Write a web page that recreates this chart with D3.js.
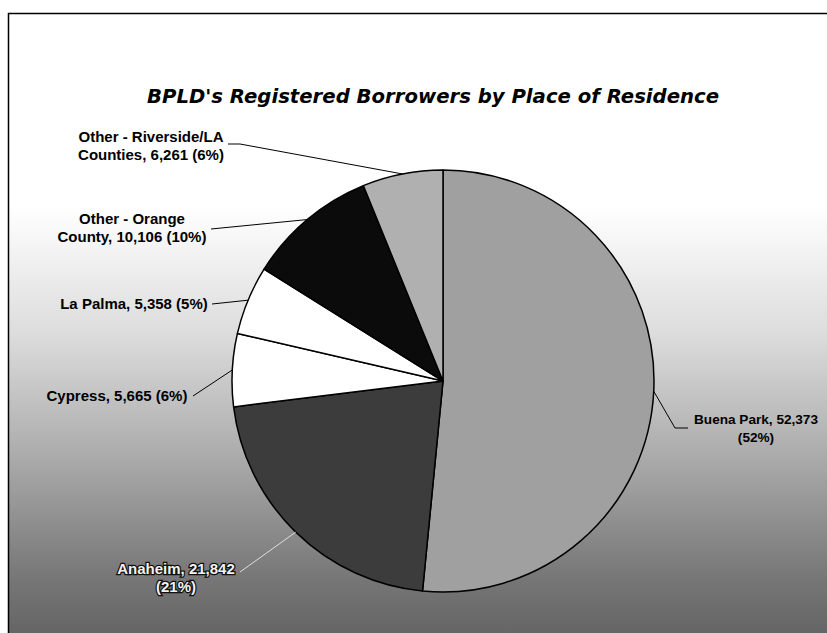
<!DOCTYPE html>
<html><head><meta charset="utf-8">
<script src="https://cdn.jsdelivr.net/npm/d3@7"></script>
<style>html,body{margin:0;padding:0;background:#fff;}svg{display:block;}</style>
</head><body>
<script>
// ---- data ----
const categories = ["Buena Park", "Anaheim", "Cypress", "La Palma", "Other - Orange County", "Other - Riverside/LA Counties"];
const values = [52373, 21842, 5665, 5358, 10106, 6261];
const percents = ["52%", "21%", "6%", "5%", "10%", "6%"];
const labelLines = [
  ["Buena Park, 52,373", "(52%)"],
  ["Anaheim, 21,842", "(21%)"],
  ["Cypress, 5,665 (6%)"],
  ["La Palma, 5,358 (5%)"],
  ["Other - Orange", "County, 10,106 (10%)"],
  ["Other - Riverside/LA", "Counties, 6,261 (6%)"]
];
const title = "BPLD's Registered Borrowers by Place of Residence";

// ---- layout / style ----
const W = 827, H = 633;
const cx = 443, cy = 381, R = 211;
const fills = ["#a0a0a0", "#3c3c3c", "#ffffff", "#ffffff", "#0b0b0b", "#b0b0b0"];
const labelPos = [
  {x: 756, y: 428, end: [688, 428], elbow: [675, 428], size: 13.6},
  {x: 176, y: 578, end: [240, 572], elbow: null, size: 15},
  {x: 117, y: 396, end: [193, 396], elbow: null, size: 15},
  {x: 134, y: 304, end: [212, 304], elbow: null, size: 15},
  {x: 132, y: 228, end: [211, 229], elbow: null, size: 15},
  {x: 151, y: 146, end: [228, 144], elbow: [240, 144], size: 15}
];
const lineH = 17.5;

const svg = d3.select("body").append("svg").attr("width", W).attr("height", H);
const defs = svg.append("defs");
const grad = defs.append("linearGradient").attr("id", "bg").attr("x1", 0).attr("y1", 0).attr("x2", 0).attr("y2", 1);
[[0, "#ffffff"], [0.3, "#ffffff"], [0.5, "#dcdcdc"], [0.7, "#a8a8a8"], [0.88, "#767676"], [1, "#5e5e5e"]]
  .forEach(([o, c]) => grad.append("stop").attr("offset", o).attr("stop-color", c));

svg.append("rect").attr("x", 8.5).attr("y", 13.5).attr("width", W + 10).attr("height", H + 10)
  .attr("fill", "url(#bg)").attr("stroke", "#000").attr("stroke-width", 1.5);

svg.append("text").attr("x", 433).attr("y", 103)
  .attr("text-anchor", "middle")
  .attr("font-family", "DejaVu Sans, Verdana, sans-serif")
  .attr("font-weight", "bold").attr("font-style", "italic")
  .attr("font-size", 19)
  .attr("textLength", 572).attr("lengthAdjust", "spacingAndGlyphs")
  .text(title);

const data = categories.map((c, i) => ({cat: c, value: values[i], i}));
const pie = d3.pie().value(d => d.value).sort(null).startAngle(0).endAngle(2 * Math.PI);
const arcs = pie(data);
const arc = d3.arc().innerRadius(0).outerRadius(R);
const edge = d3.arc().innerRadius(R).outerRadius(R);

const g = svg.append("g").attr("transform", `translate(${cx},${cy})`);
g.selectAll("path.slice").data(arcs).join("path")
  .attr("class", "slice")
  .attr("d", arc)
  .attr("fill", d => fills[d.index])
  .attr("stroke", "#000").attr("stroke-width", 1.5).attr("stroke-linejoin", "round");

svg.selectAll("polyline.leader").data(arcs).join("polyline")
  .attr("class", "leader")
  .attr("fill", "none")
  .attr("stroke", d => d.index === 1 ? "#ddd" : "#000")
  .attr("stroke-width", 1)
  .attr("points", d => {
    const p = edge.centroid(d);
    const lp = labelPos[d.index];
    const pts = [[cx + p[0], cy + p[1]]];
    if (lp.elbow) pts.push(lp.elbow);
    pts.push(lp.end);
    return pts.map(q => q.join(",")).join(" ");
  });

const lab = svg.selectAll("text.lbl").data(arcs).join("text")
  .attr("class", "lbl")
  .attr("text-anchor", "middle")
  .attr("font-family", "Liberation Sans, Arial, sans-serif")
  .attr("font-weight", "bold")
  .attr("font-size", d => labelPos[d.index].size)
  .attr("fill", d => d.index === 1 ? "#f2f2f2" : "#000")
  .attr("stroke", d => d.index === 1 ? "#111" : "none")
  .attr("stroke-width", d => d.index === 1 ? 2.5 : 0)
  .attr("paint-order", "stroke");
lab.each(function(d) {
  const lines = labelLines[d.index];
  const lp = labelPos[d.index];
  const n = lines.length;
  d3.select(this).selectAll("tspan").data(lines).join("tspan")
    .attr("x", lp.x)
    .attr("y", (t, k) => lp.y + (k - (n - 1) / 2) * lineH + 5)
    .text(t => t);
});
</script>
</body></html>
